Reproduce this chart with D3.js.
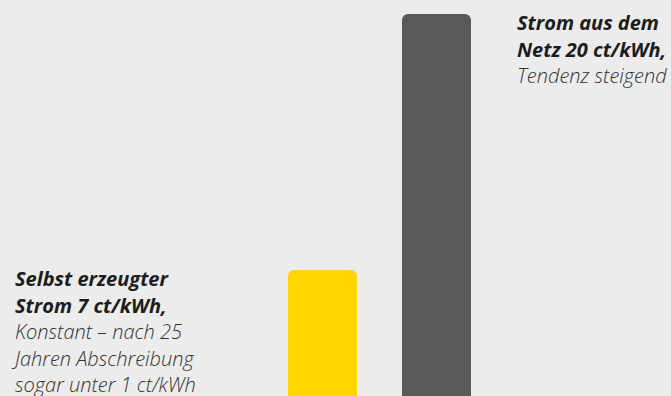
<!DOCTYPE html>
<html>
<head>
<meta charset="utf-8">
<script src="https://cdn.jsdelivr.net/npm/d3@7"></script>
<style>
  html, body { margin: 0; padding: 0; background: #ebeceb; }
  svg { display: block; }
  text { font-family: "Open Sans", "Noto Sans", sans-serif; font-style: italic; fill: #1d1d1b; }
  .head { font-weight: 700; }
  .sub { font-weight: 300; fill: #333333; }
</style>
</head>
<body>
<div id="app"></div>
<script>
// chart data
const categories = ["Selbst erzeugt", "Netz"];
const prices = [7, 20];
const colors = ["#ffd500", "#59595b"];
const headLines = [
  ["Selbst erzeugter", "Strom 7 ct/kWh,"],
  ["Strom aus dem", "Netz 20 ct/kWh,"]
];
const subLines = [
  ["Konstant – nach 25", "Jahren Abschreibung", "sogar unter 1 ct/kWh"],
  ["Tendenz steigend"]
];

const width = 671, height = 396;

const svg = d3.select("#app").append("svg")
  .attr("width", width)
  .attr("height", height);

const x = d3.scaleBand()
  .domain(categories)
  .range([288, 471])
  .paddingInner(0.395)
  .paddingOuter(0);

const y = d3.scaleLinear().domain([0, 20]).range([408, 14]);

svg.selectAll("rect.bar")
  .data(categories)
  .join("rect")
  .attr("class", "bar")
  .attr("x", (d) => x(d))
  .attr("width", x.bandwidth())
  .attr("y", (d, i) => y(prices[i]))
  .attr("height", (d, i) => y(0) - y(prices[i]) + 20)
  .attr("rx", 6)
  .attr("fill", (d, i) => colors[i]);

// labels sit next to each bar, starting just below its top
const labelX = [15, 517];
const lineH = 26.5;

const labels = svg.selectAll("g.label")
  .data(categories)
  .join("g")
  .attr("class", "label")
  .attr("transform", (d, i) => `translate(${labelX[i]},${y(prices[i]) + 16})`);

labels.each(function (d, i) {
  const g = d3.select(this);
  const lines = headLines[i].map((t) => ({ t, cls: "head" }))
    .concat(subLines[i].map((t) => ({ t, cls: "sub" })));
  g.selectAll("text")
    .data(lines)
    .join("text")
    .attr("class", (l) => l.cls)
    .attr("y", (l, j) => j * lineH)
    .attr("font-size", 20)
    .text((l) => l.t);
});
</script>
</body>
</html>
